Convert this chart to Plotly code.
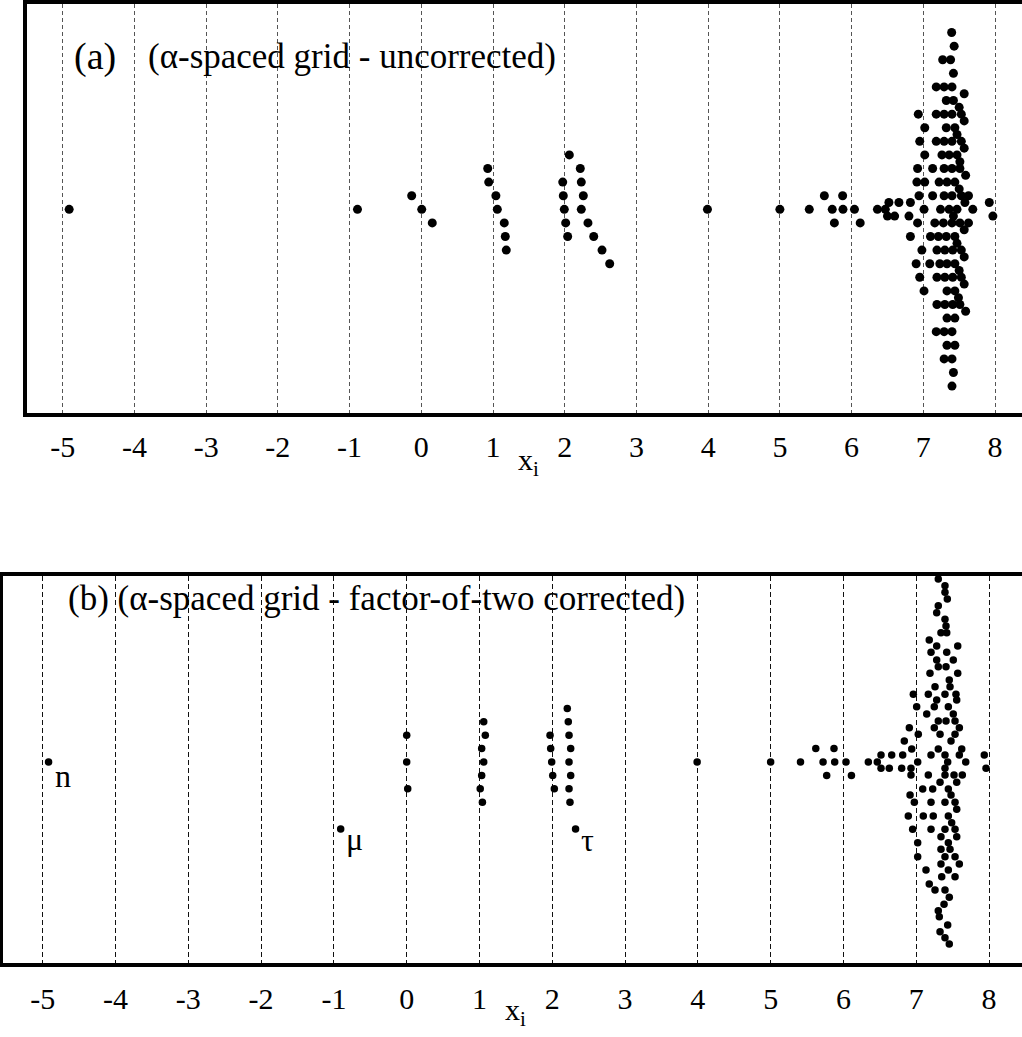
import plotly.graph_objects as go

W, H = 1022, 1037
FONT = "Liberation Serif"

tick_vals = list(range(-5, 9))
tick_text = [str(t) for t in tick_vals]

# ---------------- panel (a): alpha-spaced grid, uncorrected ----------------
a_sparse_x = [-4.91, -0.89, -0.134, 0.006, 0.153, 0.926, 0.94, 1.04, 1.06, 1.157,
              1.171, 1.185, 2.064, 2.217, 1.972, 2.231, 1.98, 2.259, 1.994, 2.231,
              2.013, 2.324, 2.041, 2.404, 2.52, 2.627, 3.99, 5.0, 5.41, 5.62,
              5.875, 5.73, 5.88, 6.04, 5.76, 6.12]
a_sparse_y = [0, 0, 1, 0, -1, 3, 2, 1, 0, -1,
              -2, -3, 4, 3, 2, 2, 1, 1, 0, 0,
              -1, -1, -2, -2, -3, -4, 0, 0, 0, 1,
              1, 0, 0, 0, -1, -1]

a_cluster_rows = [
    (13, [7.395]),
    (12, [7.43]),
    (11, [7.27, 7.38]),
    (10, [7.42]),
    (9, [7.18, 7.29, 7.40]),
    (8.5, [7.57]),
    (8, [7.32, 7.42]),
    (7.5, [7.50]),
    (7, [6.93, 7.18, 7.29, 7.40, 7.53]),
    (6.5, [7.57]),
    (6, [7.02, 7.32, 7.44]),
    (5.5, [7.47]),
    (5, [6.95, 7.18, 7.29, 7.40, 7.53]),
    (4.5, [7.57]),
    (4, [7.02, 7.26, 7.36, 7.47]),
    (3.5, [7.51]),
    (3, [6.92, 7.13, 7.29, 7.40, 7.51]),
    (2.5, [7.59]),
    (2, [6.91, 7.02, 7.22, 7.33, 7.44]),
    (1.5, [7.50]),
    (1, [6.94, 7.13, 7.29, 7.40, 7.53, 7.63]),
    (0.5, [6.52, 6.66, 6.82, 7.58, 7.92]),
    (0, [6.36, 6.47, 7.01, 7.24, 7.36, 7.47, 7.69]),
    (-0.5, [6.50, 6.60, 6.80, 7.42, 7.97]),
    (-1, [6.92, 7.16, 7.28, 7.40, 7.51, 7.63]),
    (-1.5, [7.57]),
    (-2, [6.82, 7.10, 7.21, 7.32, 7.44]),
    (-2.5, [7.47]),
    (-3, [6.98, 7.19, 7.30, 7.41, 7.53]),
    (-3.5, [7.57]),
    (-4, [6.90, 7.09, 7.23, 7.33, 7.44]),
    (-4.5, [7.50]),
    (-5, [6.95, 7.19, 7.30, 7.41, 7.53]),
    (-5.5, [7.57]),
    (-6, [7.01, 7.33, 7.44]),
    (-6.5, [7.49]),
    (-7, [7.19, 7.30, 7.41, 7.51]),
    (-7.5, [7.59]),
    (-8, [7.33, 7.44]),
    (-9, [7.18, 7.29, 7.40]),
    (-10, [7.33, 7.44]),
    (-11, [7.29, 7.40]),
    (-12, [7.42]),
    (-13, [7.40]),
]

# ---------------- panel (b): factor-of-two corrected ----------------
b_sparse_x = [-4.92, -0.907,
              0.0, 0.0, 0.014,
              1.058, 1.08, 1.03, 1.058, 1.03, 1.01, 1.04,
              1.969, 1.978, 1.992, 2.006, 2.028,
              2.206, 2.22, 2.23, 2.253, 2.23, 2.253, 2.23, 2.243,
              2.32,
              3.99, 5.0, 5.41, 5.62, 5.87, 5.72, 5.88, 6.035, 5.77, 6.11]
b_sparse_y = [0, -5,
              2, 0, -2,
              3, 2, 1, 0, -1, -2, -3,
              2, 1, 0, -1, -2,
              4, 3, 2, 1, 0, -1, -2, -3,
              -5,
              0, 0, 0, 1, 1, 0, 0, 0, -1, -1]

b_cluster_rows = [
    (13.66, [7.303]),
    (13.16, [7.395]),
    (12.66, [7.395]),
    (12.16, [7.427]),
    (11.66, [7.303]),
    (11.14, [7.281]),
    (10.65, [7.395]),
    (10.15, [7.409]),
    (9.65, [7.340, 7.419]),
    (9.10, [7.179]),
    (8.66, [7.281, 7.570]),
    (8.19, [7.203, 7.419]),
    (7.61, [7.281, 7.509]),
    (7.11, [7.303, 7.409]),
    (6.62, [7.189, 7.570]),
    (6.12, [7.454]),
    (5.62, [7.258, 7.464]),
    (5.05, [6.960, 7.166, 7.395, 7.546]),
    (4.63, [7.281, 7.556]),
    (4.13, [7.006, 7.248, 7.441]),
    (3.58, [7.144, 7.509]),
    (3.06, [7.303, 7.409, 7.533]),
    (2.56, [6.905, 7.248, 7.592]),
    (2.07, [7.028, 7.327, 7.533]),
    (1.57, [6.836, 7.478]),
    (0.97, [6.938, 7.303, 7.625]),
    (0.52, [6.516, 6.663, 6.814, 7.203, 7.395, 7.592, 7.935]),
    (0.0, [6.342, 6.465, 7.020, 7.432, 7.680]),
    (-0.47, [6.516, 6.630, 6.800, 6.928, 7.395, 7.959]),
    (-0.97, [6.928, 7.166, 7.395, 7.519, 7.633]),
    (-1.51, [7.327, 7.556]),
    (-2.01, [7.089, 7.226, 7.441]),
    (-2.46, [6.915, 7.478]),
    (-3.01, [6.974, 7.203, 7.395, 7.533]),
    (-3.53, [7.556]),
    (-4.03, [6.891, 7.097, 7.234, 7.441]),
    (-4.53, [7.487]),
    (-5.02, [6.951, 7.203, 7.395, 7.533]),
    (-5.57, [7.340, 7.556]),
    (-6.02, [7.020, 7.441]),
    (-6.51, [7.340, 7.464]),
    (-7.07, [7.020, 7.395, 7.533]),
    (-7.61, [7.340, 7.592]),
    (-8.06, [7.134, 7.441]),
    (-8.56, [7.350, 7.533]),
    (-9.10, [7.179]),
    (-9.55, [7.258, 7.395]),
    (-10.10, [7.454]),
    (-10.62, [7.382]),
    (-11.10, [7.303]),
    (-11.54, [7.317]),
    (-12.16, [7.432]),
    (-12.66, [7.327]),
    (-13.11, [7.395]),
    (-13.58, [7.454]),
]

b_labels = ["n", "μ", "τ"]
b_label_x = [-4.72, -0.72, 2.48]
b_label_y = [-1.05, -5.75, -5.8]


def flatten(rows):
    xs, ys = [], []
    for y, row in rows:
        for x in row:
            xs.append(x)
            ys.append(y)
    return xs, ys


ax_c, ay_c = flatten(a_cluster_rows)
bx_c, by_c = flatten(b_cluster_rows)

fig = go.Figure()
fig.add_trace(go.Scatter(x=a_sparse_x + ax_c, y=a_sparse_y + ay_c, mode="markers",
                         marker=dict(size=9, color="black"), xaxis="x", yaxis="y",
                         showlegend=False, hoverinfo="skip"))
fig.add_trace(go.Scatter(x=b_sparse_x + bx_c, y=b_sparse_y + by_c, mode="markers",
                         marker=dict(size=7.5, color="black"), xaxis="x2", yaxis="y2",
                         showlegend=False, hoverinfo="skip"))

a_left, a_top, a_bot = 27, 4, 413
b_left, b_top, b_bot = 3, 576, 963

axis_common = dict(
    tickvals=tick_vals, ticktext=tick_text, showgrid=True,
    gridwidth=1, zeroline=False,
    showline=True, linecolor="black", linewidth=4, mirror=True,
    ticks="", tickfont=dict(family=FONT, size=30, color="black"),
)

fig.update_layout(
    width=W, height=H,
    margin=dict(l=0, r=0, t=0, b=0),
    paper_bgcolor="white", plot_bgcolor="white",
    font=dict(family=FONT, color="black"),
    xaxis=dict(domain=[a_left / W, 1.0], range=[-5.498, 8.376], anchor="y",
               gridcolor="#555555", griddash="4px,3px", ticklabelstandoff=4, **axis_common),
    yaxis=dict(domain=[1 - a_bot / H, 1 - a_top / H], range=[-14.98, 15.1], anchor="x",
               showgrid=False, zeroline=False, showticklabels=False, ticks="",
               showline=True, linecolor="black", linewidth=4),
    xaxis2=dict(domain=[b_left / W, 1.0], range=[-5.546, 8.453], anchor="y2",
                gridcolor="#111111", griddash="5px,3px", ticklabelstandoff=6, **axis_common),
    yaxis2=dict(domain=[1 - b_bot / H, 1 - b_top / H], range=[-15.0, 13.88], anchor="x2",
                showgrid=False, zeroline=False, showticklabels=False, ticks="",
                showline=True, linecolor="black", linewidth=5),
)

annotations = [
    dict(text="(a)", x=72 / W, y=1 - 57 / H, xref="paper", yref="paper",
         xanchor="left", yanchor="middle", showarrow=False, font=dict(family=FONT, size=38)),
    dict(text="(α-spaced grid - uncorrected)", x=146 / W, y=1 - 57 / H, xref="paper", yref="paper",
         xanchor="left", yanchor="middle", showarrow=False, font=dict(family=FONT, size=35)),
    dict(text="(b) (α-spaced grid - factor-of-two corrected)", x=66 / W, y=1 - 598 / H,
         xref="paper", yref="paper", xanchor="left", yanchor="middle", showarrow=False,
         font=dict(family=FONT, size=35)),
    dict(text="x<sub>i</sub>", x=1.5, y=1 - 462 / H, xref="x", yref="paper",
         xanchor="center", yanchor="middle", showarrow=False, font=dict(family=FONT, size=30)),
    dict(text="x<sub>i</sub>", x=1.5, y=1 - 1012 / H, xref="x2", yref="paper",
         xanchor="center", yanchor="middle", showarrow=False, font=dict(family=FONT, size=30)),
]
for t, x, y in zip(b_labels, b_label_x, b_label_y):
    annotations.append(dict(text=t, x=x, y=y, xref="x2", yref="y2", xanchor="center",
                            yanchor="middle", showarrow=False, font=dict(family=FONT, size=32)))
fig.update_layout(annotations=annotations)

fig.write_html("out.html")
